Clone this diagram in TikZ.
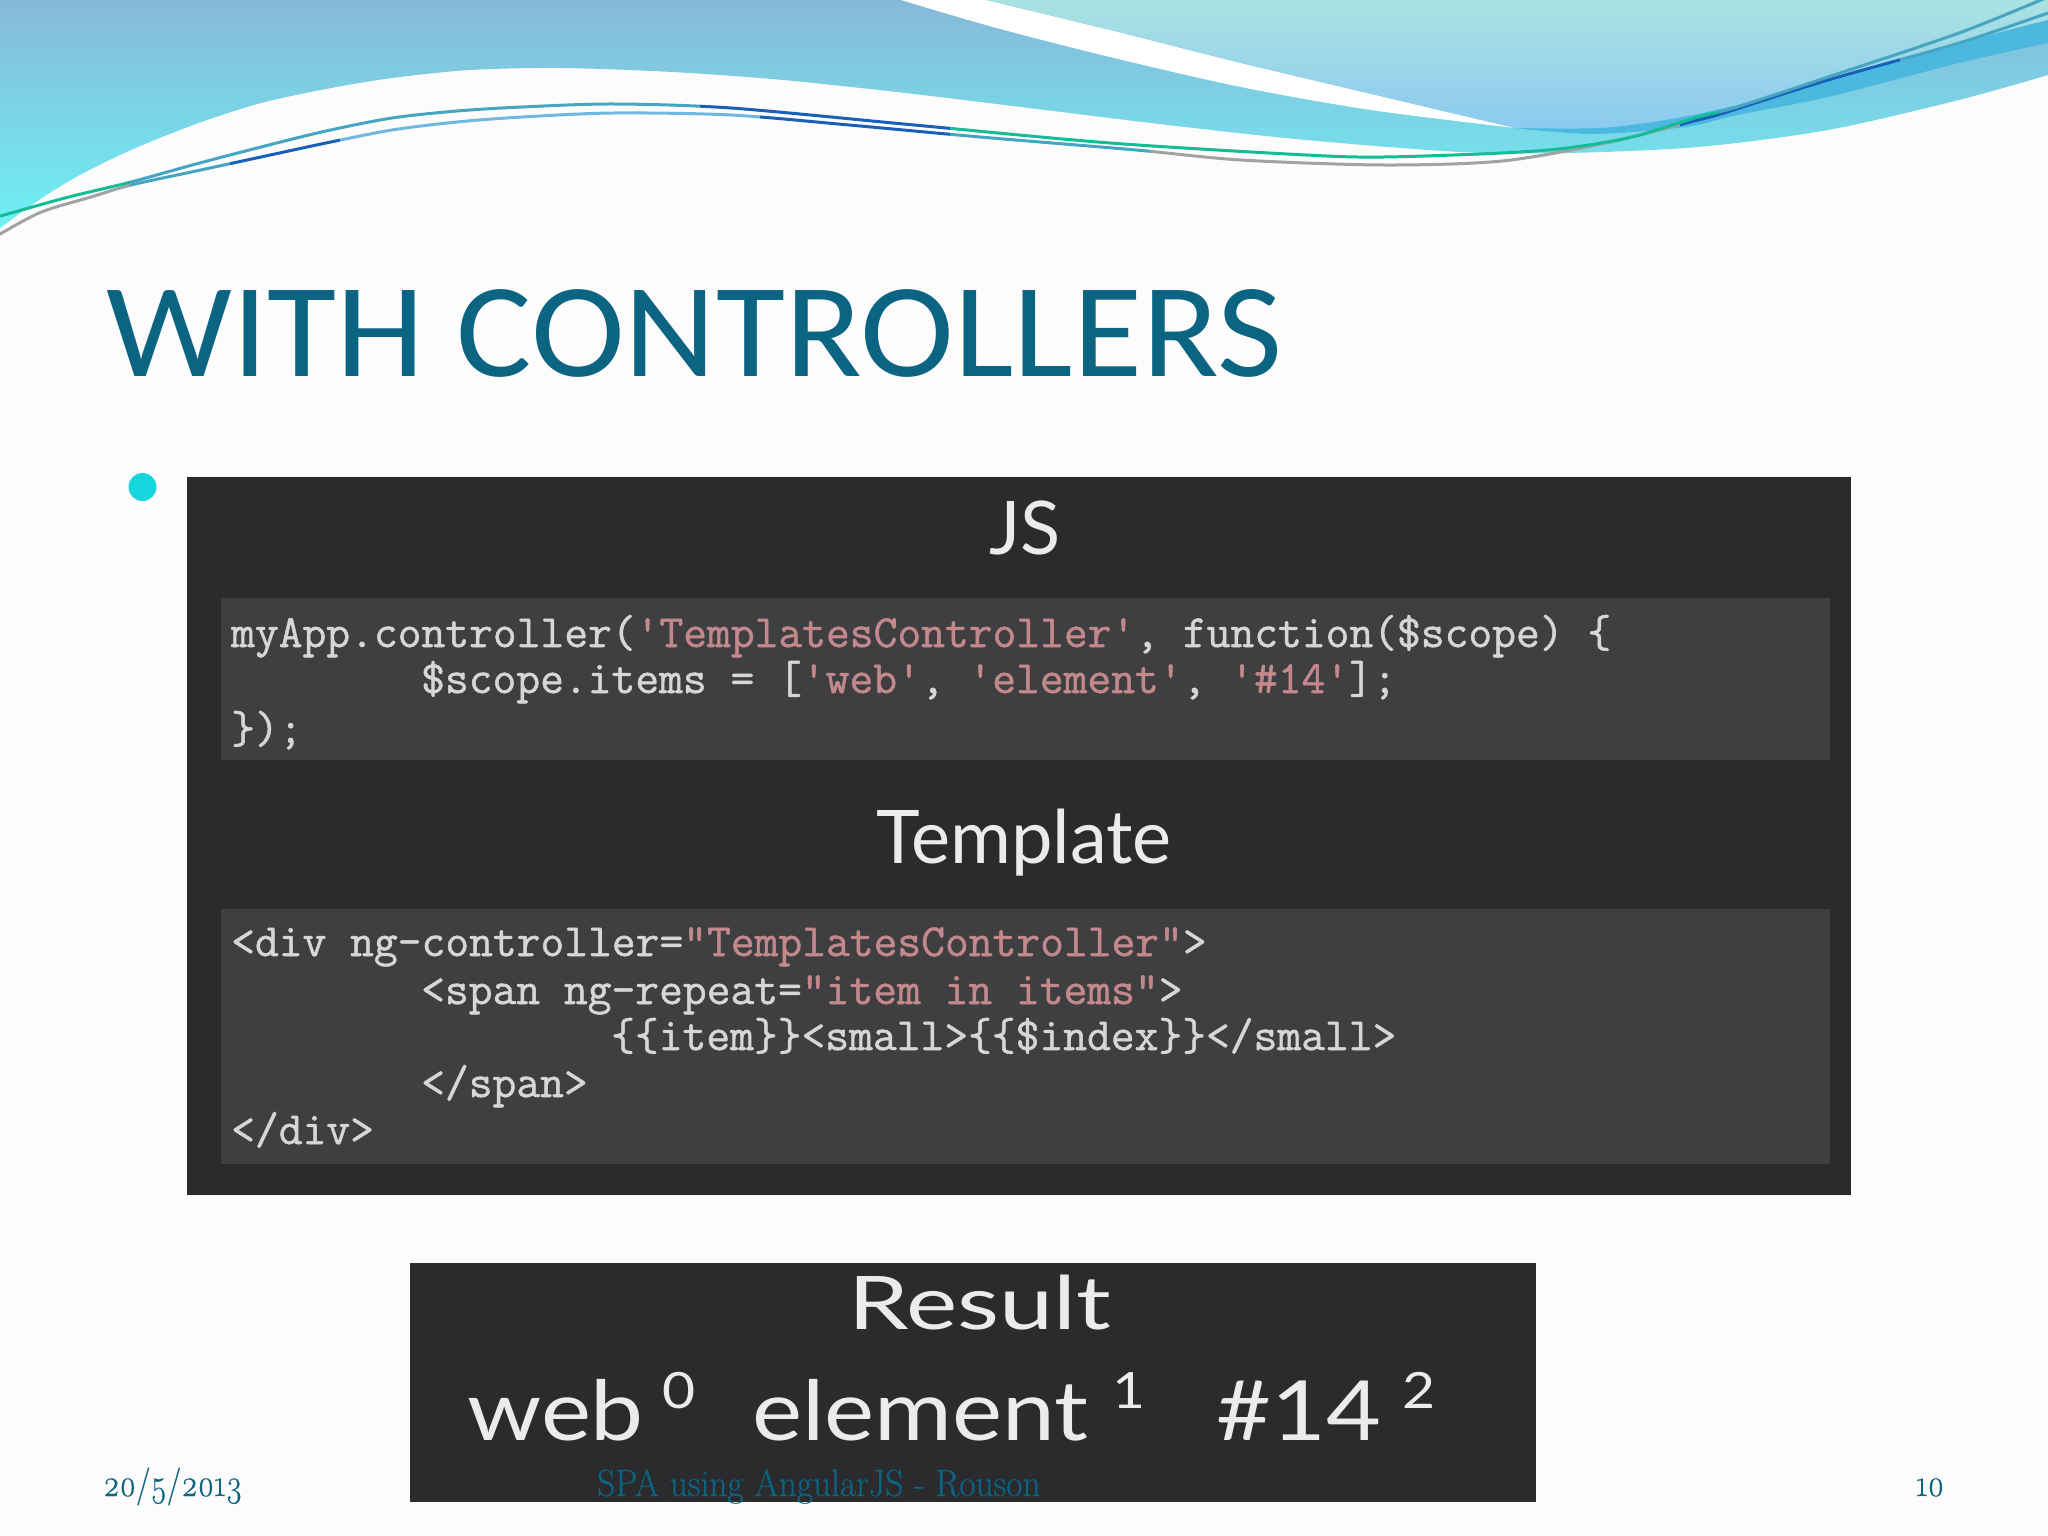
\documentclass[tikz,border=0pt]{standalone}
\usepackage{fontspec}
\usepackage{xcolor}
\usepackage{tikz}
\setmainfont{Carlito}
\newfontfamily\latofont{Lato}
\newfontfamily\codefont[FakeBold=1.1]{Latin Modern Mono}
\newfontfamily\footfont[Numbers=OldStyle,FakeBold=0.4]{Latin Modern Roman}
\definecolor{SlideBack}{RGB}{252,252,253}
\definecolor{WaveTop}{RGB}{135,185,216}
\definecolor{WaveLow}{RGB}{110,240,245}
\definecolor{PaleTop}{RGB}{170,226,226}
\definecolor{PaleLow}{RGB}{140,202,240}
\definecolor{WaveBand}{RGB}{76,184,224}
\definecolor{TitleBlue}{RGB}{11,100,130}
\definecolor{BulletCyan}{RGB}{21,213,221}
\definecolor{PanelDark}{RGB}{43,43,45}
\definecolor{CodeBack}{RGB}{63,63,65}
\definecolor{CodeText}{RGB}{214,214,210}
\definecolor{CodePink}{RGB}{194,136,140}
\definecolor{LineGreen}{RGB}{20,189,149}
\definecolor{LineTeal}{RGB}{70,165,192}
\definecolor{LineNavy}{RGB}{24,96,184}
\definecolor{LineSky}{RGB}{112,184,224}
\definecolor{LineGray}{RGB}{160,163,165}
\newcommand{\pinktext}[1]{\textcolor{CodePink}{#1}}
\newcommand{\strandup}{(-10,219) (65,198) (131,182) (196,164) (261,147) (326,131) (392,118) (457,111) (522,107) (614,104) (731,108) (914,125) (1110,143) (1306,155) (1384,157) (1502,153) (1567,148) (1632,137) (1698,117) (1737,107) (1828,77) (1959,33) (2048,-3)}
\newcommand{\stranddown}{(-10,240) (39,213) (91,197) (131,185) (196,171) (261,157) (326,143) (392,130) (457,122) (522,117) (614,113) (731,115) (849,125) (980,137) (1136,150) (1241,160) (1384,165) (1502,161) (1606,143) (1698,120) (1724,113) (1828,80) (1959,43) (2048,13)}
\tikzset{
  panel/.style={fill=PanelDark,draw=none},
  codeback/.style={fill=CodeBack,draw=none},
  codeline/.style={anchor=base west,inner sep=0pt,text=CodeText,font=\codefont\fontsize{46.2}{54}\selectfont},
  heading/.style={anchor=base,inner sep=0pt,text=white!92!black,font=\latofont\fontsize{74}{80}\selectfont},
  resultword/.style={anchor=base west,inner sep=0pt,text=white!92!black,xscale=1.14,transform shape,font=\latofont\fontsize{83}{90}\selectfont},
  resultnum/.style={anchor=base west,inner sep=0pt,text=white!92!black,xscale=1.14,transform shape,font=\latofont\fontsize{50}{54}\selectfont},
  footer/.style={anchor=base west,inner sep=0pt,text=TitleBlue,xscale=0.83,transform shape,font=\footfont\fontsize{38}{44}\selectfont},
  strand/.style={line width=3pt,line cap=round}
}

\begin{document}
\begin{tikzpicture}[x=1pt,y=-1pt]
  \useasboundingbox (0,0) rectangle (2048,1536);
  \clip (0,0) rectangle (2048,1536);
  \fill[SlideBack] (0,0) rectangle (2048,1536);

  % waves at the top
  \shade[top color=WaveTop,bottom color=WaveLow] (0,0) -- (2048,0) -- (2048,75)
    -- plot[smooth] coordinates {(2048,75) (1959,100) (1828,130) (1698,147) (1567,153) (1460,152) (1306,140) (1176,126) (1045,110) (914,94) (783,80) (672,72) (561,68) (470,70) (392,78) (326,89) (261,103) (196,124) (131,150) (78,176) (39,200) (0,228)} -- cycle;
  \fill[white] plot[smooth] coordinates {(901,0) (993,27) (1110,57) (1241,87) (1371,110) (1515,128)}
    -- plot[smooth] coordinates {(1515,128) (1384,97) (1241,63) (1110,30) (986,0)} -- cycle;
  \shade[top color=PaleTop,bottom color=PaleLow] plot[smooth] coordinates {(986,0) (1110,30) (1241,63) (1384,97) (1515,128)}
    -- plot[smooth] coordinates {(1515,128) (1600,128) (1672,119) (1737,105) (1828,80) (1959,43) (2048,20)} -- (2048,0) -- cycle;
  \fill[WaveBand] plot[smooth] coordinates {(1515,128) (1600,128) (1672,119) (1737,105) (1828,80) (1959,43) (2048,20)}
    -- plot[smooth] coordinates {(2048,43) (1959,63) (1828,97) (1737,115) (1685,127) (1593,134) (1515,128)} -- cycle;
  \foreach \xa/\xb/\linecol in {0/130/LineGray,130/230/LineTeal,230/340/LineNavy,340/760/LineSky,760/950/LineNavy,950/1150/LineTeal,1150/1680/LineGray,1680/1900/LineNavy,1900/2048/LineTeal} {
    \begin{scope}
      \clip (\xa,0) rectangle (\xb,300);
      \draw[strand,\linecol] plot[smooth] coordinates {\stranddown};
    \end{scope}
  }
  \foreach \xa/\xb/\linecol in {0/130/LineGreen,130/700/LineTeal,700/950/LineNavy,950/1720/LineGreen,1720/2048/LineTeal} {
    \begin{scope}
      \clip (\xa,0) rectangle (\xb,300);
      \draw[strand,\linecol] plot[smooth] coordinates {\strandup};
    \end{scope}
  }

  \node[anchor=base west,inner sep=0pt,text=TitleBlue,xscale=1.056,transform shape,font=\fontsize{134}{140}\selectfont] (title) at (106,376) {WITH CONTROLLERS};
  \fill[BulletCyan] (142.5,487) circle (14);

  % code panel
  \fill[panel] (187,477) rectangle (1851,1195);
  \fill[codeback] (221,598) rectangle (1830,760);
  \fill[codeback] (221,909) rectangle (1830,1164);
  \node[heading] (jshead) at (1025,554) {JS};
  \node[heading] (templatehead) at (1024,863) {Template};

  \node[codeline] (jsone) at (231,647) {myApp.controller(\pinktext{'TemplatesController'}, function(\$scope) \{};
  \node[codeline] (jstwo) at (421,693) {\$scope.items = [\pinktext{'web'}, \pinktext{'element'}, \pinktext{'\#14'}];};
  \node[codeline] (jsthree) at (231,743) {\});};

  \node[codeline] (tplone) at (231,956) {<div ng-controller=\pinktext{"TemplatesController"}>};
  \node[codeline] (tpltwo) at (421,1004) {<span ng-repeat=\pinktext{"item in items"}>};
  \node[codeline] (tplthree) at (611,1050) {\{\{item\}\}<small>\{\{\$index\}\}</small>};
  \node[codeline] (tplfour) at (421,1097) {</span>};
  \node[codeline] (tplfive) at (231,1144) {</div>};

  % result panel
  \fill[panel] (410,1263) rectangle (1536,1502);
  \node[heading,xscale=1.31,transform shape] (resulthead) at (980,1329) {Result};
  \node[resultword] (wordweb) at (467,1440) {web};
  \node[resultnum] (numzero) at (662,1408) {0};
  \node[resultword] (wordelement) at (752,1440) {element};
  \node[resultnum] (numone) at (1112,1408) {1};
  \node[resultword] (wordhash) at (1216,1440) {\#14};
  \node[resultnum] (numtwo) at (1402,1408) {2};

  % footer
  \node[footer] (footdate) at (103,1496) {20/5/2013};
  \node[footer,xscale=1.12] (footname) at (597,1496) {SPA using AngularJS - Rouson};
  \node[footer] (footpage) at (1916,1496) {10};
\end{tikzpicture}
\end{document}
